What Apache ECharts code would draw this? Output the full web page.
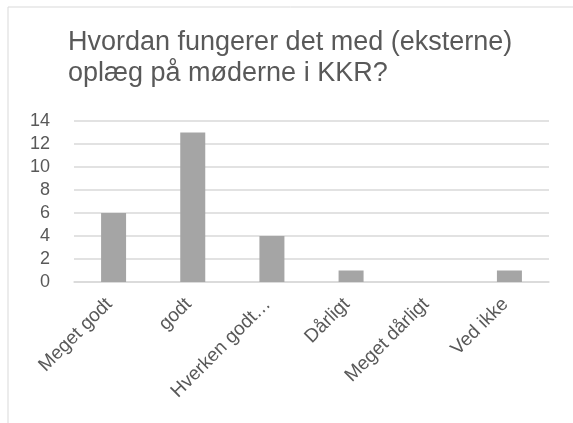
<!DOCTYPE html>
<html>
<head>
<meta charset="utf-8">
<script src="https://cdn.jsdelivr.net/npm/echarts@6/dist/echarts.min.js"></script>
<style>
  html, body { margin: 0; padding: 0; background: #fff; }
  #chart { width: 573px; height: 423px; }
</style>
</head>
<body>
<div id="chart"></div>
<script>
const titleText = 'Hvordan fungerer det med (eksterne)\noplæg på møderne i KKR?';
const categories = ['Meget godt', 'godt', 'Hverken godt…', 'Dårligt', 'Meget dårligt', 'Ved ikke'];
const counts = [6, 13, 4, 1, 0, 1];
const yTicks = { min: 0, max: 14, interval: 2 };

const chart = echarts.init(document.getElementById('chart'));
const textColor = '#595959';
const font = 'Liberation Sans, Arial, sans-serif';

chart.setOption({
  animation: false,
  backgroundColor: '#fff',
  title: {
    text: titleText,
    left: 63,
    top: 22,
    textStyle: {
      color: textColor,
      fontFamily: font,
      fontSize: 27,
      fontWeight: 'normal',
      lineHeight: 31
    }
  },
  graphic: [
    { type: 'line', shape: { x1: 8, y1: 7, x2: 573, y2: 7 }, style: { stroke: '#d9d9d9', lineWidth: 1 } },
    { type: 'line', shape: { x1: 8, y1: 7, x2: 8, y2: 423 }, style: { stroke: '#d9d9d9', lineWidth: 1 } }
  ],
  grid: {
    left: 74,
    right: 24,
    top: 121,
    bottom: 141
  },
  xAxis: {
    type: 'category',
    data: categories,
    axisLine: { show: true, lineStyle: { color: '#d9d9d9', width: 1.5 } },
    axisTick: { show: false },
    axisLabel: {
      interval: 0,
      rotate: 45,
      margin: 15,
      padding: [0, 6, 0, 0],
      color: textColor,
      fontFamily: font,
      fontSize: 19
    }
  },
  yAxis: {
    type: 'value',
    min: yTicks.min,
    max: yTicks.max,
    interval: yTicks.interval,
    axisLine: { show: false },
    axisTick: { show: false },
    splitLine: { lineStyle: { color: '#d9d9d9', width: 1.5 } },
    axisLabel: {
      margin: 24,
      color: textColor,
      fontFamily: font,
      fontSize: 18
    }
  },
  series: [
    {
      type: 'bar',
      data: counts,
      barWidth: 25,
      itemStyle: { color: '#a5a5a5' }
    }
  ]
});
</script>
</body>
</html>
